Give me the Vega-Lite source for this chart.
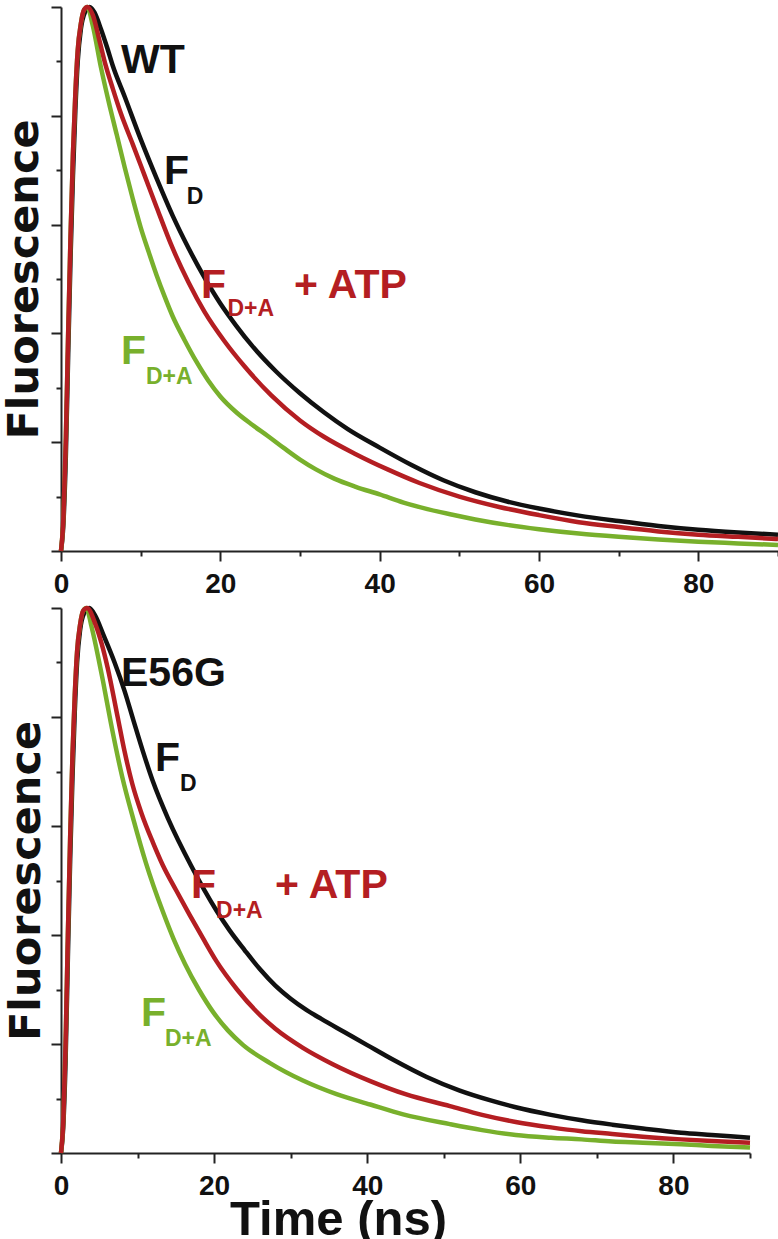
{
  "$schema": "https://vega.github.io/schema/vega-lite/v6.json",
  "background": "white",
  "padding": {"left": 3, "top": -2, "right": 0, "bottom": 0},
  "spacing": 1,
  "align": "none",
  "config": {
    "view": {"stroke": null},
    "axis": {"grid": false, "domainColor": "#222", "tickColor": "#222", "domainWidth": 2, "tickWidth": 2, "labelColor": "#111", "titleColor": "#111"}
  },
  "datasets": {
    "curves": [
      {"panel": "WT", "series": "F_D", "t": 0, "v": 0},
      {"panel": "WT", "series": "F_D", "t": 0.3, "v": 0.05},
      {"panel": "WT", "series": "F_D", "t": 0.6, "v": 0.17},
      {"panel": "WT", "series": "F_D", "t": 0.9, "v": 0.36},
      {"panel": "WT", "series": "F_D", "t": 1.2, "v": 0.54},
      {"panel": "WT", "series": "F_D", "t": 1.5, "v": 0.69},
      {"panel": "WT", "series": "F_D", "t": 1.8, "v": 0.81},
      {"panel": "WT", "series": "F_D", "t": 2.1, "v": 0.9},
      {"panel": "WT", "series": "F_D", "t": 2.5, "v": 0.96},
      {"panel": "WT", "series": "F_D", "t": 3.0, "v": 0.99},
      {"panel": "WT", "series": "F_D", "t": 3.6, "v": 1.0},
      {"panel": "WT", "series": "F_D", "t": 4.2, "v": 0.99},
      {"panel": "WT", "series": "F_D", "t": 5, "v": 0.96},
      {"panel": "WT", "series": "F_D", "t": 5.8, "v": 0.925},
      {"panel": "WT", "series": "F_D", "t": 6.5, "v": 0.892},
      {"panel": "WT", "series": "F_D", "t": 8, "v": 0.835},
      {"panel": "WT", "series": "F_D", "t": 10, "v": 0.757},
      {"panel": "WT", "series": "F_D", "t": 12, "v": 0.685},
      {"panel": "WT", "series": "F_D", "t": 14, "v": 0.617},
      {"panel": "WT", "series": "F_D", "t": 16, "v": 0.557},
      {"panel": "WT", "series": "F_D", "t": 18, "v": 0.503},
      {"panel": "WT", "series": "F_D", "t": 20, "v": 0.455},
      {"panel": "WT", "series": "F_D", "t": 22, "v": 0.414},
      {"panel": "WT", "series": "F_D", "t": 24, "v": 0.377},
      {"panel": "WT", "series": "F_D", "t": 27, "v": 0.33},
      {"panel": "WT", "series": "F_D", "t": 30, "v": 0.29},
      {"panel": "WT", "series": "F_D", "t": 33, "v": 0.255},
      {"panel": "WT", "series": "F_D", "t": 36, "v": 0.224},
      {"panel": "WT", "series": "F_D", "t": 40, "v": 0.19},
      {"panel": "WT", "series": "F_D", "t": 44, "v": 0.158},
      {"panel": "WT", "series": "F_D", "t": 48, "v": 0.13},
      {"panel": "WT", "series": "F_D", "t": 52, "v": 0.108},
      {"panel": "WT", "series": "F_D", "t": 56, "v": 0.091},
      {"panel": "WT", "series": "F_D", "t": 60, "v": 0.078},
      {"panel": "WT", "series": "F_D", "t": 65, "v": 0.065},
      {"panel": "WT", "series": "F_D", "t": 70, "v": 0.055},
      {"panel": "WT", "series": "F_D", "t": 75, "v": 0.046},
      {"panel": "WT", "series": "F_D", "t": 80, "v": 0.039},
      {"panel": "WT", "series": "F_D", "t": 85, "v": 0.034},
      {"panel": "WT", "series": "F_D", "t": 90, "v": 0.03},

      {"panel": "WT", "series": "F_D+A", "t": 0, "v": 0},
      {"panel": "WT", "series": "F_D+A", "t": 0.3, "v": 0.06},
      {"panel": "WT", "series": "F_D+A", "t": 0.6, "v": 0.2},
      {"panel": "WT", "series": "F_D+A", "t": 0.9, "v": 0.4},
      {"panel": "WT", "series": "F_D+A", "t": 1.2, "v": 0.58},
      {"panel": "WT", "series": "F_D+A", "t": 1.5, "v": 0.73},
      {"panel": "WT", "series": "F_D+A", "t": 1.8, "v": 0.84},
      {"panel": "WT", "series": "F_D+A", "t": 2.1, "v": 0.92},
      {"panel": "WT", "series": "F_D+A", "t": 2.5, "v": 0.97},
      {"panel": "WT", "series": "F_D+A", "t": 2.9, "v": 0.995},
      {"panel": "WT", "series": "F_D+A", "t": 3.3, "v": 1.0},
      {"panel": "WT", "series": "F_D+A", "t": 4, "v": 0.965},
      {"panel": "WT", "series": "F_D+A", "t": 5, "v": 0.89},
      {"panel": "WT", "series": "F_D+A", "t": 6, "v": 0.825},
      {"panel": "WT", "series": "F_D+A", "t": 7, "v": 0.765},
      {"panel": "WT", "series": "F_D+A", "t": 8, "v": 0.705},
      {"panel": "WT", "series": "F_D+A", "t": 9, "v": 0.648},
      {"panel": "WT", "series": "F_D+A", "t": 10, "v": 0.595},
      {"panel": "WT", "series": "F_D+A", "t": 11, "v": 0.55},
      {"panel": "WT", "series": "F_D+A", "t": 12, "v": 0.507},
      {"panel": "WT", "series": "F_D+A", "t": 13, "v": 0.468},
      {"panel": "WT", "series": "F_D+A", "t": 14, "v": 0.432},
      {"panel": "WT", "series": "F_D+A", "t": 15.5, "v": 0.388},
      {"panel": "WT", "series": "F_D+A", "t": 17, "v": 0.348},
      {"panel": "WT", "series": "F_D+A", "t": 18.5, "v": 0.313},
      {"panel": "WT", "series": "F_D+A", "t": 20, "v": 0.284},
      {"panel": "WT", "series": "F_D+A", "t": 22, "v": 0.255},
      {"panel": "WT", "series": "F_D+A", "t": 24, "v": 0.232},
      {"panel": "WT", "series": "F_D+A", "t": 26, "v": 0.211},
      {"panel": "WT", "series": "F_D+A", "t": 28, "v": 0.189},
      {"panel": "WT", "series": "F_D+A", "t": 30, "v": 0.168},
      {"panel": "WT", "series": "F_D+A", "t": 32, "v": 0.15},
      {"panel": "WT", "series": "F_D+A", "t": 34.3, "v": 0.133},
      {"panel": "WT", "series": "F_D+A", "t": 37, "v": 0.118},
      {"panel": "WT", "series": "F_D+A", "t": 40, "v": 0.104},
      {"panel": "WT", "series": "F_D+A", "t": 43, "v": 0.089},
      {"panel": "WT", "series": "F_D+A", "t": 46, "v": 0.077},
      {"panel": "WT", "series": "F_D+A", "t": 49, "v": 0.067},
      {"panel": "WT", "series": "F_D+A", "t": 52, "v": 0.058},
      {"panel": "WT", "series": "F_D+A", "t": 56, "v": 0.048},
      {"panel": "WT", "series": "F_D+A", "t": 60, "v": 0.04},
      {"panel": "WT", "series": "F_D+A", "t": 65, "v": 0.032},
      {"panel": "WT", "series": "F_D+A", "t": 70, "v": 0.026},
      {"panel": "WT", "series": "F_D+A", "t": 75, "v": 0.021},
      {"panel": "WT", "series": "F_D+A", "t": 80, "v": 0.017},
      {"panel": "WT", "series": "F_D+A", "t": 85, "v": 0.014},
      {"panel": "WT", "series": "F_D+A", "t": 90, "v": 0.011},

      {"panel": "WT", "series": "F_D+A + ATP", "t": 0, "v": 0},
      {"panel": "WT", "series": "F_D+A + ATP", "t": 0.3, "v": 0.06},
      {"panel": "WT", "series": "F_D+A + ATP", "t": 0.6, "v": 0.2},
      {"panel": "WT", "series": "F_D+A + ATP", "t": 0.9, "v": 0.4},
      {"panel": "WT", "series": "F_D+A + ATP", "t": 1.2, "v": 0.58},
      {"panel": "WT", "series": "F_D+A + ATP", "t": 1.5, "v": 0.73},
      {"panel": "WT", "series": "F_D+A + ATP", "t": 1.8, "v": 0.84},
      {"panel": "WT", "series": "F_D+A + ATP", "t": 2.1, "v": 0.92},
      {"panel": "WT", "series": "F_D+A + ATP", "t": 2.5, "v": 0.97},
      {"panel": "WT", "series": "F_D+A + ATP", "t": 2.9, "v": 0.995},
      {"panel": "WT", "series": "F_D+A + ATP", "t": 3.3, "v": 1.0},
      {"panel": "WT", "series": "F_D+A + ATP", "t": 4, "v": 0.985},
      {"panel": "WT", "series": "F_D+A + ATP", "t": 4.8, "v": 0.94},
      {"panel": "WT", "series": "F_D+A + ATP", "t": 5.6, "v": 0.893},
      {"panel": "WT", "series": "F_D+A + ATP", "t": 6.5, "v": 0.85},
      {"panel": "WT", "series": "F_D+A + ATP", "t": 7.5, "v": 0.805},
      {"panel": "WT", "series": "F_D+A + ATP", "t": 9, "v": 0.748},
      {"panel": "WT", "series": "F_D+A + ATP", "t": 10.5, "v": 0.69},
      {"panel": "WT", "series": "F_D+A + ATP", "t": 12, "v": 0.632},
      {"panel": "WT", "series": "F_D+A + ATP", "t": 14, "v": 0.557},
      {"panel": "WT", "series": "F_D+A + ATP", "t": 16, "v": 0.494},
      {"panel": "WT", "series": "F_D+A + ATP", "t": 18, "v": 0.44},
      {"panel": "WT", "series": "F_D+A + ATP", "t": 20.5, "v": 0.386},
      {"panel": "WT", "series": "F_D+A + ATP", "t": 23, "v": 0.34},
      {"panel": "WT", "series": "F_D+A + ATP", "t": 26.4, "v": 0.286},
      {"panel": "WT", "series": "F_D+A + ATP", "t": 30, "v": 0.24},
      {"panel": "WT", "series": "F_D+A + ATP", "t": 33, "v": 0.21},
      {"panel": "WT", "series": "F_D+A + ATP", "t": 37, "v": 0.178},
      {"panel": "WT", "series": "F_D+A + ATP", "t": 41, "v": 0.15},
      {"panel": "WT", "series": "F_D+A + ATP", "t": 45, "v": 0.125},
      {"panel": "WT", "series": "F_D+A + ATP", "t": 50, "v": 0.1},
      {"panel": "WT", "series": "F_D+A + ATP", "t": 55, "v": 0.081},
      {"panel": "WT", "series": "F_D+A + ATP", "t": 60, "v": 0.066},
      {"panel": "WT", "series": "F_D+A + ATP", "t": 65, "v": 0.053},
      {"panel": "WT", "series": "F_D+A + ATP", "t": 70, "v": 0.044},
      {"panel": "WT", "series": "F_D+A + ATP", "t": 75, "v": 0.036},
      {"panel": "WT", "series": "F_D+A + ATP", "t": 80, "v": 0.03},
      {"panel": "WT", "series": "F_D+A + ATP", "t": 85, "v": 0.026},
      {"panel": "WT", "series": "F_D+A + ATP", "t": 90, "v": 0.022},

      {"panel": "E56G", "series": "F_D", "t": 0, "v": 0},
      {"panel": "E56G", "series": "F_D", "t": 0.3, "v": 0.05},
      {"panel": "E56G", "series": "F_D", "t": 0.6, "v": 0.17},
      {"panel": "E56G", "series": "F_D", "t": 0.9, "v": 0.36},
      {"panel": "E56G", "series": "F_D", "t": 1.2, "v": 0.54},
      {"panel": "E56G", "series": "F_D", "t": 1.5, "v": 0.69},
      {"panel": "E56G", "series": "F_D", "t": 1.8, "v": 0.81},
      {"panel": "E56G", "series": "F_D", "t": 2.1, "v": 0.9},
      {"panel": "E56G", "series": "F_D", "t": 2.5, "v": 0.96},
      {"panel": "E56G", "series": "F_D", "t": 3.0, "v": 0.99},
      {"panel": "E56G", "series": "F_D", "t": 3.7, "v": 1.0},
      {"panel": "E56G", "series": "F_D", "t": 4.5, "v": 0.985},
      {"panel": "E56G", "series": "F_D", "t": 5.5, "v": 0.952},
      {"panel": "E56G", "series": "F_D", "t": 7, "v": 0.9},
      {"panel": "E56G", "series": "F_D", "t": 8.3, "v": 0.848},
      {"panel": "E56G", "series": "F_D", "t": 9.5, "v": 0.792},
      {"panel": "E56G", "series": "F_D", "t": 10.7, "v": 0.737},
      {"panel": "E56G", "series": "F_D", "t": 12, "v": 0.682},
      {"panel": "E56G", "series": "F_D", "t": 14, "v": 0.613},
      {"panel": "E56G", "series": "F_D", "t": 17, "v": 0.527},
      {"panel": "E56G", "series": "F_D", "t": 20.3, "v": 0.445},
      {"panel": "E56G", "series": "F_D", "t": 22, "v": 0.409},
      {"panel": "E56G", "series": "F_D", "t": 24, "v": 0.372},
      {"panel": "E56G", "series": "F_D", "t": 26, "v": 0.337},
      {"panel": "E56G", "series": "F_D", "t": 28, "v": 0.307},
      {"panel": "E56G", "series": "F_D", "t": 30, "v": 0.283},
      {"panel": "E56G", "series": "F_D", "t": 32, "v": 0.263},
      {"panel": "E56G", "series": "F_D", "t": 34, "v": 0.246},
      {"panel": "E56G", "series": "F_D", "t": 37, "v": 0.222},
      {"panel": "E56G", "series": "F_D", "t": 40, "v": 0.198},
      {"panel": "E56G", "series": "F_D", "t": 43.4, "v": 0.171},
      {"panel": "E56G", "series": "F_D", "t": 47.7, "v": 0.14},
      {"panel": "E56G", "series": "F_D", "t": 52, "v": 0.115},
      {"panel": "E56G", "series": "F_D", "t": 56, "v": 0.097},
      {"panel": "E56G", "series": "F_D", "t": 59.4, "v": 0.084},
      {"panel": "E56G", "series": "F_D", "t": 64, "v": 0.07},
      {"panel": "E56G", "series": "F_D", "t": 68, "v": 0.06},
      {"panel": "E56G", "series": "F_D", "t": 72, "v": 0.052},
      {"panel": "E56G", "series": "F_D", "t": 76, "v": 0.045},
      {"panel": "E56G", "series": "F_D", "t": 81, "v": 0.037},
      {"panel": "E56G", "series": "F_D", "t": 85, "v": 0.033},
      {"panel": "E56G", "series": "F_D", "t": 90, "v": 0.028},

      {"panel": "E56G", "series": "F_D+A", "t": 0, "v": 0},
      {"panel": "E56G", "series": "F_D+A", "t": 0.3, "v": 0.06},
      {"panel": "E56G", "series": "F_D+A", "t": 0.6, "v": 0.2},
      {"panel": "E56G", "series": "F_D+A", "t": 0.9, "v": 0.4},
      {"panel": "E56G", "series": "F_D+A", "t": 1.2, "v": 0.58},
      {"panel": "E56G", "series": "F_D+A", "t": 1.5, "v": 0.73},
      {"panel": "E56G", "series": "F_D+A", "t": 1.8, "v": 0.84},
      {"panel": "E56G", "series": "F_D+A", "t": 2.1, "v": 0.92},
      {"panel": "E56G", "series": "F_D+A", "t": 2.5, "v": 0.97},
      {"panel": "E56G", "series": "F_D+A", "t": 2.9, "v": 0.995},
      {"panel": "E56G", "series": "F_D+A", "t": 3.3, "v": 1.0},
      {"panel": "E56G", "series": "F_D+A", "t": 4, "v": 0.965},
      {"panel": "E56G", "series": "F_D+A", "t": 5, "v": 0.9},
      {"panel": "E56G", "series": "F_D+A", "t": 5.5, "v": 0.865},
      {"panel": "E56G", "series": "F_D+A", "t": 6.5, "v": 0.79},
      {"panel": "E56G", "series": "F_D+A", "t": 8, "v": 0.69},
      {"panel": "E56G", "series": "F_D+A", "t": 9.5, "v": 0.61},
      {"panel": "E56G", "series": "F_D+A", "t": 11.1, "v": 0.532},
      {"panel": "E56G", "series": "F_D+A", "t": 13.3, "v": 0.443},
      {"panel": "E56G", "series": "F_D+A", "t": 14.7, "v": 0.393},
      {"panel": "E56G", "series": "F_D+A", "t": 16.2, "v": 0.347},
      {"panel": "E56G", "series": "F_D+A", "t": 18, "v": 0.3},
      {"panel": "E56G", "series": "F_D+A", "t": 19.9, "v": 0.258},
      {"panel": "E56G", "series": "F_D+A", "t": 21.8, "v": 0.225},
      {"panel": "E56G", "series": "F_D+A", "t": 23.8, "v": 0.198},
      {"panel": "E56G", "series": "F_D+A", "t": 27.3, "v": 0.165},
      {"panel": "E56G", "series": "F_D+A", "t": 31.6, "v": 0.133},
      {"panel": "E56G", "series": "F_D+A", "t": 36, "v": 0.108},
      {"panel": "E56G", "series": "F_D+A", "t": 40.4, "v": 0.089},
      {"panel": "E56G", "series": "F_D+A", "t": 44.7, "v": 0.071},
      {"panel": "E56G", "series": "F_D+A", "t": 50.8, "v": 0.053},
      {"panel": "E56G", "series": "F_D+A", "t": 55, "v": 0.042},
      {"panel": "E56G", "series": "F_D+A", "t": 59.4, "v": 0.033},
      {"panel": "E56G", "series": "F_D+A", "t": 64, "v": 0.028},
      {"panel": "E56G", "series": "F_D+A", "t": 68, "v": 0.025},
      {"panel": "E56G", "series": "F_D+A", "t": 72, "v": 0.021},
      {"panel": "E56G", "series": "F_D+A", "t": 76, "v": 0.019},
      {"panel": "E56G", "series": "F_D+A", "t": 81, "v": 0.016},
      {"panel": "E56G", "series": "F_D+A", "t": 85, "v": 0.013},
      {"panel": "E56G", "series": "F_D+A", "t": 90, "v": 0.01},

      {"panel": "E56G", "series": "F_D+A + ATP", "t": 0, "v": 0},
      {"panel": "E56G", "series": "F_D+A + ATP", "t": 0.3, "v": 0.06},
      {"panel": "E56G", "series": "F_D+A + ATP", "t": 0.6, "v": 0.2},
      {"panel": "E56G", "series": "F_D+A + ATP", "t": 0.9, "v": 0.4},
      {"panel": "E56G", "series": "F_D+A + ATP", "t": 1.2, "v": 0.58},
      {"panel": "E56G", "series": "F_D+A + ATP", "t": 1.5, "v": 0.73},
      {"panel": "E56G", "series": "F_D+A + ATP", "t": 1.8, "v": 0.84},
      {"panel": "E56G", "series": "F_D+A + ATP", "t": 2.1, "v": 0.92},
      {"panel": "E56G", "series": "F_D+A + ATP", "t": 2.5, "v": 0.97},
      {"panel": "E56G", "series": "F_D+A + ATP", "t": 2.9, "v": 0.995},
      {"panel": "E56G", "series": "F_D+A + ATP", "t": 3.4, "v": 1.0},
      {"panel": "E56G", "series": "F_D+A + ATP", "t": 4.5, "v": 0.97},
      {"panel": "E56G", "series": "F_D+A + ATP", "t": 5.3, "v": 0.935},
      {"panel": "E56G", "series": "F_D+A + ATP", "t": 6.1, "v": 0.89},
      {"panel": "E56G", "series": "F_D+A + ATP", "t": 7.4, "v": 0.8},
      {"panel": "E56G", "series": "F_D+A + ATP", "t": 8.3, "v": 0.737},
      {"panel": "E56G", "series": "F_D+A + ATP", "t": 9.3, "v": 0.678},
      {"panel": "E56G", "series": "F_D+A + ATP", "t": 10.5, "v": 0.624},
      {"panel": "E56G", "series": "F_D+A + ATP", "t": 12, "v": 0.57},
      {"panel": "E56G", "series": "F_D+A + ATP", "t": 13.3, "v": 0.528},
      {"panel": "E56G", "series": "F_D+A + ATP", "t": 15, "v": 0.483},
      {"panel": "E56G", "series": "F_D+A + ATP", "t": 16.8, "v": 0.437},
      {"panel": "E56G", "series": "F_D+A + ATP", "t": 18.5, "v": 0.395},
      {"panel": "E56G", "series": "F_D+A + ATP", "t": 20.3, "v": 0.352},
      {"panel": "E56G", "series": "F_D+A + ATP", "t": 23, "v": 0.3},
      {"panel": "E56G", "series": "F_D+A + ATP", "t": 25.5, "v": 0.26},
      {"panel": "E56G", "series": "F_D+A + ATP", "t": 28, "v": 0.228},
      {"panel": "E56G", "series": "F_D+A + ATP", "t": 31.6, "v": 0.193},
      {"panel": "E56G", "series": "F_D+A + ATP", "t": 35.5, "v": 0.163},
      {"panel": "E56G", "series": "F_D+A + ATP", "t": 40.4, "v": 0.132},
      {"panel": "E56G", "series": "F_D+A + ATP", "t": 45, "v": 0.108},
      {"panel": "E56G", "series": "F_D+A + ATP", "t": 50.8, "v": 0.086},
      {"panel": "E56G", "series": "F_D+A + ATP", "t": 55, "v": 0.07},
      {"panel": "E56G", "series": "F_D+A + ATP", "t": 59.4, "v": 0.057},
      {"panel": "E56G", "series": "F_D+A + ATP", "t": 64, "v": 0.047},
      {"panel": "E56G", "series": "F_D+A + ATP", "t": 68, "v": 0.04},
      {"panel": "E56G", "series": "F_D+A + ATP", "t": 72, "v": 0.035},
      {"panel": "E56G", "series": "F_D+A + ATP", "t": 76, "v": 0.03},
      {"panel": "E56G", "series": "F_D+A + ATP", "t": 81, "v": 0.025},
      {"panel": "E56G", "series": "F_D+A + ATP", "t": 85, "v": 0.022},
      {"panel": "E56G", "series": "F_D+A + ATP", "t": 90, "v": 0.019}
    ],
    "labels": [
      {"panel": "WT", "series": "name", "kind": "main", "x": 7.53, "y": 0.879, "text": "WT"},
      {"panel": "WT", "series": "F_D", "kind": "main", "x": 12.93, "y": 0.675, "text": "F"},
      {"panel": "WT", "series": "F_D", "kind": "sub", "x": 15.8, "y": 0.638, "text": "D"},
      {"panel": "WT", "series": "F_D+A + ATP", "kind": "main", "x": 17.57, "y": 0.465, "text": "F"},
      {"panel": "WT", "series": "F_D+A + ATP", "kind": "sub", "x": 20.9, "y": 0.432, "text": "D+A"},
      {"panel": "WT", "series": "F_D+A + ATP", "kind": "main", "x": 29.25, "y": 0.465, "text": "+ ATP"},
      {"panel": "WT", "series": "F_D+A", "kind": "main", "x": 7.53, "y": 0.344, "text": "F"},
      {"panel": "WT", "series": "F_D+A", "kind": "sub", "x": 10.67, "y": 0.307, "text": "D+A"},
      {"panel": "E56G", "series": "name", "kind": "main", "x": 7.84, "y": 0.857, "text": "E56G"},
      {"panel": "E56G", "series": "F_D", "kind": "main", "x": 12.28, "y": 0.701, "text": "F"},
      {"panel": "E56G", "series": "F_D", "kind": "sub", "x": 15.54, "y": 0.664, "text": "D"},
      {"panel": "E56G", "series": "F_D+A + ATP", "kind": "main", "x": 16.98, "y": 0.468, "text": "F"},
      {"panel": "E56G", "series": "F_D+A + ATP", "kind": "sub", "x": 20.25, "y": 0.431, "text": "D+A"},
      {"panel": "E56G", "series": "F_D+A + ATP", "kind": "main", "x": 27.95, "y": 0.468, "text": "+ ATP"},
      {"panel": "E56G", "series": "F_D+A", "kind": "main", "x": 10.45, "y": 0.233, "text": "F"},
      {"panel": "E56G", "series": "F_D+A", "kind": "sub", "x": 13.58, "y": 0.196, "text": "D+A"}
    ]
  },
  "vconcat": [
    {
      "width": 717,
      "height": 544,
      "layer": [
        {
          "data": {"name": "curves"},
          "transform": [{"filter": "datum.panel == 'WT'"}],
          "mark": {"type": "line", "strokeWidth": 4.5, "interpolate": "monotone"},
          "encoding": {
            "x": {"field": "t", "type": "quantitative", "scale": {"domain": [0, 90], "nice": false, "zero": false},
              "axis": {"values": [0, 20, 40, 60, 80], "tickSize": 10, "labelFont": "Liberation Sans", "labelFontWeight": "bold", "labelFontSize": 28, "labelPadding": 9, "labelFlush": false, "labelOverlap": false, "title": null}},
            "y": {"field": "v", "type": "quantitative", "scale": {"domain": [0, 1], "nice": false},
              "axis": {"values": [0, 0.2, 0.4, 0.6, 0.8, 1], "tickSize": 10, "labels": false, "title": "Fluorescence", "titleFont": "DejaVu Sans", "titleFontWeight": "bold", "titleFontSize": 43, "titlePadding": 4}},
            "color": {"field": "series", "type": "nominal", "scale": {"domain": ["F_D", "F_D+A + ATP", "F_D+A", "name"], "range": ["#111111", "#b41e22", "#78b02c", "#111111"]}, "legend": null}
          }
        },
        {
          "data": {"name": "labels"},
          "transform": [{"filter": "datum.panel == 'WT' && datum.kind == 'main'"}],
          "mark": {"type": "text", "align": "left", "baseline": "alphabetic", "font": "Liberation Sans", "fontWeight": "bold", "fontSize": 41},
          "encoding": {
            "x": {"field": "x", "type": "quantitative", "scale": {"domain": [0, 90], "nice": false, "zero": false},
              "axis": {"values": [10, 30, 50, 70, 90], "tickSize": 5, "labels": false, "domain": false, "title": null, "orient": "bottom"}},
            "y": {"field": "y", "type": "quantitative", "scale": {"domain": [0, 1], "nice": false},
              "axis": {"values": [0.1, 0.3, 0.5, 0.7, 0.9], "tickSize": 5, "labels": false, "domain": false, "title": null, "orient": "left"}},
            "text": {"field": "text"},
            "color": {"field": "series", "type": "nominal", "legend": null}
          }
        },
        {
          "data": {"name": "labels"},
          "transform": [{"filter": "datum.panel == 'WT' && datum.kind == 'sub'"}],
          "mark": {"type": "text", "align": "left", "baseline": "alphabetic", "font": "Liberation Sans", "fontWeight": "bold", "fontSize": 23},
          "encoding": {
            "x": {"field": "x", "type": "quantitative", "scale": {"domain": [0, 90], "nice": false, "zero": false}, "axis": null},
            "y": {"field": "y", "type": "quantitative", "scale": {"domain": [0, 1], "nice": false}, "axis": null},
            "text": {"field": "text"},
            "color": {"field": "series", "type": "nominal", "legend": null}
          }
        }
      ],
      "resolve": {"axis": {"x": "independent", "y": "independent"}}
    },
    {
      "width": 689,
      "height": 545,
      "layer": [
        {
          "data": {"name": "curves"},
          "transform": [{"filter": "datum.panel == 'E56G'"}],
          "mark": {"type": "line", "strokeWidth": 4.5, "interpolate": "monotone"},
          "encoding": {
            "x": {"field": "t", "type": "quantitative", "scale": {"domain": [0, 90], "nice": false, "zero": false},
              "axis": {"values": [0, 20, 40, 60, 80], "tickSize": 10, "labelFont": "Liberation Sans", "labelFontWeight": "bold", "labelFontSize": 28, "labelPadding": 9, "labelFlush": false, "labelOverlap": false,
                "title": "Time (ns)", "titleFont": "Liberation Sans", "titleFontWeight": "bold", "titleFontSize": 49, "titleX": 277, "titleY": 81, "titleAlign": "center", "titleBaseline": "alphabetic"}},
            "y": {"field": "v", "type": "quantitative", "scale": {"domain": [0, 1], "nice": false},
              "axis": {"values": [0, 0.2, 0.4, 0.6, 0.8, 1], "tickSize": 10, "labels": false, "title": "Fluorescence", "titleFont": "DejaVu Sans", "titleFontWeight": "bold", "titleFontSize": 43, "titlePadding": 2}},
            "color": {"field": "series", "type": "nominal", "scale": {"domain": ["F_D", "F_D+A + ATP", "F_D+A", "name"], "range": ["#111111", "#b41e22", "#78b02c", "#111111"]}, "legend": null}
          }
        },
        {
          "data": {"name": "labels"},
          "transform": [{"filter": "datum.panel == 'E56G' && datum.kind == 'main'"}],
          "mark": {"type": "text", "align": "left", "baseline": "alphabetic", "font": "Liberation Sans", "fontWeight": "bold", "fontSize": 41},
          "encoding": {
            "x": {"field": "x", "type": "quantitative", "scale": {"domain": [0, 90], "nice": false, "zero": false},
              "axis": {"values": [10, 30, 50, 70, 90], "tickSize": 5, "labels": false, "domain": false, "title": null, "orient": "bottom"}},
            "y": {"field": "y", "type": "quantitative", "scale": {"domain": [0, 1], "nice": false},
              "axis": {"values": [0.1, 0.3, 0.5, 0.7, 0.9], "tickSize": 5, "labels": false, "domain": false, "title": null, "orient": "left"}},
            "text": {"field": "text"},
            "color": {"field": "series", "type": "nominal", "legend": null}
          }
        },
        {
          "data": {"name": "labels"},
          "transform": [{"filter": "datum.panel == 'E56G' && datum.kind == 'sub'"}],
          "mark": {"type": "text", "align": "left", "baseline": "alphabetic", "font": "Liberation Sans", "fontWeight": "bold", "fontSize": 23},
          "encoding": {
            "x": {"field": "x", "type": "quantitative", "scale": {"domain": [0, 90], "nice": false, "zero": false}, "axis": null},
            "y": {"field": "y", "type": "quantitative", "scale": {"domain": [0, 1], "nice": false}, "axis": null},
            "text": {"field": "text"},
            "color": {"field": "series", "type": "nominal", "legend": null}
          }
        }
      ],
      "resolve": {"axis": {"x": "independent", "y": "independent"}}
    }
  ]
}
